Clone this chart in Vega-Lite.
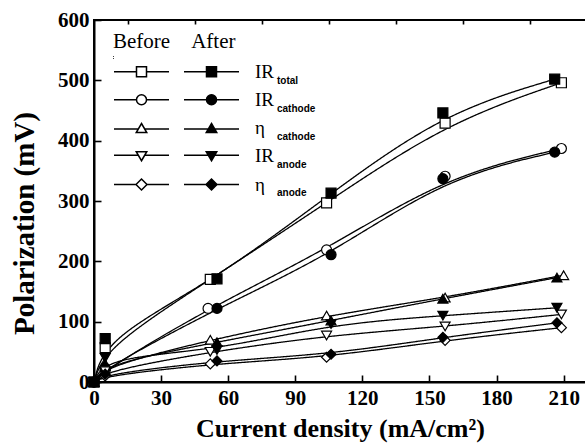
{
  "$schema": "https://vega.github.io/schema/vega-lite/v6.json",
  "autosize": "none",
  "width": 492,
  "height": 362,
  "padding": {"left": 94, "top": 20, "right": 0, "bottom": 66},
  "background": "white",
  "config": {
    "view": {"stroke": "black", "strokeWidth": 2},
    "axis": {"grid": false, "domainColor": "black", "domainWidth": 2, "tickColor": "black", "tickWidth": 1.6,
             "labelColor": "black", "titleColor": "black", "labelFont": "Liberation Serif", "labelFontWeight": "bold", "labelFontSize": 21,
             "titleFont": "Liberation Serif", "titleFontWeight": "bold", "titleFontSize": 25}
  },
  "data": {"values": [
    {"series": "IRtotal", "state": "Before", "key": "IRtotal Before", "x": 0, "y": 0},
    {"series": "IRtotal", "state": "Before", "key": "IRtotal Before", "x": 5, "y": 57},
    {"series": "IRtotal", "state": "Before", "key": "IRtotal Before", "x": 52, "y": 170},
    {"series": "IRtotal", "state": "Before", "key": "IRtotal Before", "x": 104, "y": 297},
    {"series": "IRtotal", "state": "Before", "key": "IRtotal Before", "x": 157, "y": 429},
    {"series": "IRtotal", "state": "Before", "key": "IRtotal Before", "x": 209, "y": 496},
    {"series": "IRtotal", "state": "After", "key": "IRtotal After", "x": 0, "y": 0},
    {"series": "IRtotal", "state": "After", "key": "IRtotal After", "x": 5, "y": 72},
    {"series": "IRtotal", "state": "After", "key": "IRtotal After", "x": 55, "y": 171},
    {"series": "IRtotal", "state": "After", "key": "IRtotal After", "x": 106, "y": 313},
    {"series": "IRtotal", "state": "After", "key": "IRtotal After", "x": 156, "y": 446},
    {"series": "IRtotal", "state": "After", "key": "IRtotal After", "x": 206, "y": 502},
    {"series": "IRcathode", "state": "Before", "key": "IRcathode Before", "x": 0, "y": 0},
    {"series": "IRcathode", "state": "Before", "key": "IRcathode Before", "x": 5, "y": 20},
    {"series": "IRcathode", "state": "Before", "key": "IRcathode Before", "x": 51, "y": 122},
    {"series": "IRcathode", "state": "Before", "key": "IRcathode Before", "x": 104, "y": 219},
    {"series": "IRcathode", "state": "Before", "key": "IRcathode Before", "x": 157, "y": 341},
    {"series": "IRcathode", "state": "Before", "key": "IRcathode Before", "x": 209, "y": 387},
    {"series": "IRcathode", "state": "After", "key": "IRcathode After", "x": 0, "y": 0},
    {"series": "IRcathode", "state": "After", "key": "IRcathode After", "x": 5, "y": 23},
    {"series": "IRcathode", "state": "After", "key": "IRcathode After", "x": 55, "y": 122},
    {"series": "IRcathode", "state": "After", "key": "IRcathode After", "x": 106, "y": 211},
    {"series": "IRcathode", "state": "After", "key": "IRcathode After", "x": 156, "y": 337},
    {"series": "IRcathode", "state": "After", "key": "IRcathode After", "x": 206, "y": 381},
    {"series": "etacathode", "state": "Before", "key": "etacathode Before", "x": 0, "y": 0},
    {"series": "etacathode", "state": "Before", "key": "etacathode Before", "x": 5, "y": 26},
    {"series": "etacathode", "state": "Before", "key": "etacathode Before", "x": 52, "y": 70},
    {"series": "etacathode", "state": "Before", "key": "etacathode Before", "x": 104, "y": 110},
    {"series": "etacathode", "state": "Before", "key": "etacathode Before", "x": 157, "y": 140},
    {"series": "etacathode", "state": "Before", "key": "etacathode Before", "x": 210, "y": 177},
    {"series": "etacathode", "state": "After", "key": "etacathode After", "x": 0, "y": 0},
    {"series": "etacathode", "state": "After", "key": "etacathode After", "x": 5, "y": 30},
    {"series": "etacathode", "state": "After", "key": "etacathode After", "x": 55, "y": 66},
    {"series": "etacathode", "state": "After", "key": "etacathode After", "x": 106, "y": 102},
    {"series": "etacathode", "state": "After", "key": "etacathode After", "x": 156, "y": 138},
    {"series": "etacathode", "state": "After", "key": "etacathode After", "x": 207, "y": 173},
    {"series": "IRanode", "state": "Before", "key": "IRanode Before", "x": 0, "y": 0},
    {"series": "IRanode", "state": "Before", "key": "IRanode Before", "x": 5, "y": 18},
    {"series": "IRanode", "state": "Before", "key": "IRanode Before", "x": 52, "y": 50},
    {"series": "IRanode", "state": "Before", "key": "IRanode Before", "x": 104, "y": 77},
    {"series": "IRanode", "state": "Before", "key": "IRanode Before", "x": 157, "y": 92},
    {"series": "IRanode", "state": "Before", "key": "IRanode Before", "x": 209, "y": 112},
    {"series": "IRanode", "state": "After", "key": "IRanode After", "x": 0, "y": 0},
    {"series": "IRanode", "state": "After", "key": "IRanode After", "x": 5, "y": 40},
    {"series": "IRanode", "state": "After", "key": "IRanode After", "x": 55, "y": 53},
    {"series": "IRanode", "state": "After", "key": "IRanode After", "x": 106, "y": 96},
    {"series": "IRanode", "state": "After", "key": "IRanode After", "x": 156, "y": 110},
    {"series": "IRanode", "state": "After", "key": "IRanode After", "x": 207, "y": 123},
    {"series": "etaanode", "state": "Before", "key": "etaanode Before", "x": 0, "y": 0},
    {"series": "etaanode", "state": "Before", "key": "etaanode Before", "x": 5, "y": 10},
    {"series": "etaanode", "state": "Before", "key": "etaanode Before", "x": 52, "y": 30},
    {"series": "etaanode", "state": "Before", "key": "etaanode Before", "x": 104, "y": 41},
    {"series": "etaanode", "state": "Before", "key": "etaanode Before", "x": 157, "y": 69},
    {"series": "etaanode", "state": "Before", "key": "etaanode Before", "x": 209, "y": 90},
    {"series": "etaanode", "state": "After", "key": "etaanode After", "x": 0, "y": 0},
    {"series": "etaanode", "state": "After", "key": "etaanode After", "x": 5, "y": 13},
    {"series": "etaanode", "state": "After", "key": "etaanode After", "x": 55, "y": 35},
    {"series": "etaanode", "state": "After", "key": "etaanode After", "x": 106, "y": 46},
    {"series": "etaanode", "state": "After", "key": "etaanode After", "x": 156, "y": 74},
    {"series": "etaanode", "state": "After", "key": "etaanode After", "x": 207, "y": 98}
  ]},
  "resolve": {"axis": {"x": "independent", "y": "independent"}, "scale": {"shape": "independent", "fill": "independent"}, "legend": {"shape": "independent", "fill": "independent"}},
  "layer": [
    {
      "mark": {"type": "line", "interpolate": "basis", "stroke": "black", "strokeWidth": 1.3},
      "encoding": {
        "x": {"field": "x", "type": "quantitative", "scale": {"domain": [0, 220], "nice": false},
              "axis": {"values": [0, 30, 60, 90, 120, 150, 180, 210], "tickSize": -7, "labelPadding": 12, "title": "Current density (mA/cm²)", "titleFontSize": 26, "titlePadding": 7, "labelFlush": false}},
        "y": {"field": "y", "type": "quantitative", "scale": {"domain": [0, 600], "nice": false},
              "axis": {"values": [0, 100, 200, 300, 400, 500, 600], "tickSize": -7, "labelPadding": 12, "title": "Polarization (mV)", "titleFontSize": 29, "titlePadding": 18, "titleY": 203, "labelFlush": false}},
        "detail": {"field": "key"},
        "strokeDash": {"field": "series", "type": "nominal",
          "scale": {"domain": ["IRtotal", "IRcathode", "etacathode", "IRanode", "etaanode"], "range": [[1, 0], [1, 0], [1, 0], [1, 0], [1, 0]]},
          "legend": {"orient": "none", "legendX": 173, "legendY": 56, "title": null, "symbolOpacity": 0, "symbolStrokeWidth": 0, "symbolSize": 1, "labelOffset": 0,
            "labelFont": "Liberation Sans", "labelFontWeight": "bold", "labelFontSize": 10, "labelColor": "black", "rowPadding": 18,
            "labelExpr": "datum.value == 'IRtotal' ? 'total' : test(/cathode/, datum.value) ? 'cathode' : 'anode'"}}
      }
    },
    {
      "mark": {"type": "point", "filled": true, "stroke": "black", "strokeWidth": 1.2, "size": 100, "opacity": 1},
      "encoding": {
        "x": {"field": "x", "type": "quantitative", "axis": {"values": [15, 45, 75, 105, 135, 165, 195], "tickSize": -4, "labels": false, "domain": false, "title": null}},
        "y": {"field": "y", "type": "quantitative", "axis": null},
        "shape": {"field": "key", "type": "nominal", "legend": null,
          "scale": {"domain": ["IRtotal Before", "IRcathode Before", "etacathode Before", "IRanode Before", "etaanode Before", "IRtotal After", "IRcathode After", "etacathode After", "IRanode After", "etaanode After"],
                    "range": ["square", "circle", "triangle-up", "triangle-down", "diamond", "square", "circle", "triangle-up", "triangle-down", "diamond"]}},
        "fill": {"field": "key", "type": "nominal", "legend": null,
          "scale": {"domain": ["IRtotal Before", "IRcathode Before", "etacathode Before", "IRanode Before", "etaanode Before", "IRtotal After", "IRcathode After", "etacathode After", "IRanode After", "etaanode After"],
                    "range": ["white", "white", "white", "white", "white", "black", "black", "black", "black", "black"]}}
      }
    },
    {
      "transform": [{"filter": "datum.x < 0"}],
      "mark": {"type": "point", "filled": true, "stroke": "black", "strokeWidth": 1.2, "size": 100},
      "encoding": {
        "x": {"field": "x", "type": "quantitative", "axis": null},
        "y": {"field": "y", "type": "quantitative", "axis": null},
        "opacity": {"field": "state", "type": "ordinal",
          "scale": {"domain": ["Before", "After"], "range": [1, 1]},
          "legend": {"orient": "none", "legendX": 19, "legendY": 11, "title": "Before\u00a0\u00a0\u00a0\u00a0After", "titleFont": "Liberation Serif", "titleFontSize": 21, "titleFontWeight": "normal", "titleColor": "black", "titlePadding": 4,
            "symbolOpacity": 0, "symbolStrokeWidth": 0, "symbolSize": 1, "labelExpr": "''", "labelFontSize": 1, "rowPadding": 0,
            "encode": {"symbols": {"opacity": {"value": 0}}}}},
        "shape": {"field": "key", "type": "nominal",
          "scale": {"domain": ["IRtotal Before", "IRcathode Before", "etacathode Before", "IRanode Before", "etaanode Before", "IRtotal After", "IRcathode After", "etacathode After", "IRanode After", "etaanode After"],
                    "range": ["M-5.5,0H-1M1,0H5.5M-1,-1H1V1H-1Z", "M-5.5,0H-1M1,0H5.5M1,0A1,1,0,1,0,-1,0A1,1,0,1,0,1,0Z", "M-5.5,0.2H-0.6M0.6,0.2H5.5M0,-0.9L1.05,0.9H-1.05Z", "M-5.5,-0.2H-0.6M0.6,-0.2H5.5M0,0.9L1.05,-0.9H-1.05Z", "M-5.5,0H-1.1M1.1,0H5.5M-1.1,0L0,-1.1L1.1,0L0,1.1Z",
                              "M-5.5,0H-1M1,0H5.5M-1,-1H1V1H-1Z", "M-5.5,0H-1M1,0H5.5M1,0A1,1,0,1,0,-1,0A1,1,0,1,0,1,0Z", "M-5.5,0.2H-0.6M0.6,0.2H5.5M0,-0.9L1.05,0.9H-1.05Z", "M-5.5,-0.2H-0.6M0.6,-0.2H5.5M0,0.9L1.05,-0.9H-1.05Z", "M-5.5,0H-1.1M1.1,0H5.5M-1.1,0L0,-1.1L1.1,0L0,1.1Z"]},
          "legend": {"orient": "none", "legendX": 38, "legendY": 42, "columns": 2, "title": null,
            "labelFont": "Liberation Serif", "labelFontSize": 19, "labelColor": "black", "labelOffset": 34, "columnPadding": -4, "rowPadding": 8.25, "symbolSize": 100, "symbolOpacity": 1,
            "labelExpr": "test(/Before/, datum.value) ? '' : test(/^IR/, datum.value) ? 'IR' : 'η'",
            "encode": {"symbols": {"stroke": {"value": "black"}, "strokeWidth": {"value": 1.3}, "opacity": {"value": 1}, "fillOpacity": {"value": 1}, "strokeOpacity": {"value": 1}}}}},
        "fill": {"field": "key", "type": "nominal",
          "scale": {"domain": ["IRtotal Before", "IRcathode Before", "etacathode Before", "IRanode Before", "etaanode Before", "IRtotal After", "IRcathode After", "etacathode After", "IRanode After", "etaanode After"],
                    "range": ["white", "white", "white", "white", "white", "black", "black", "black", "black", "black"]}}
      }
    }
  ]
}
